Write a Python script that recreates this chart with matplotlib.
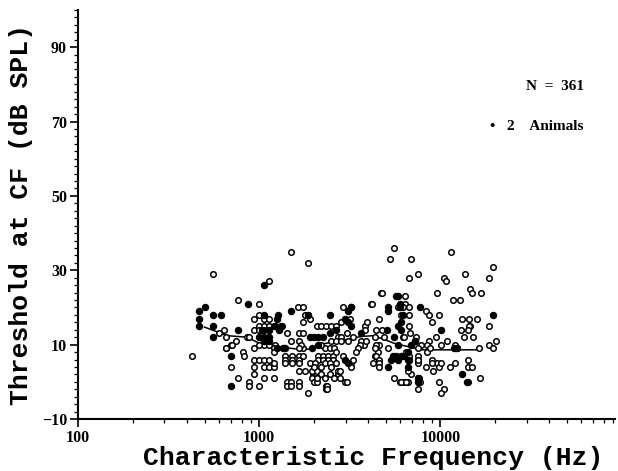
import matplotlib
matplotlib.use('Agg')
import matplotlib.pyplot as plt
from matplotlib.ticker import FixedLocator, NullFormatter, MultipleLocator

# open circles: CF (Hz) and threshold (dB SPL)
open_freq = [
    427, 558, 640, 653, 653, 700, 702, 762, 760, 815,
    820, 876, 876, 860, 657, 710, 600, 745,
    934, 994, 1060, 1127, 994, 1060, 1127, 1200, 934, 994,
    1060, 1127, 998, 1127, 994, 876, 934, 1060, 1127, 934,
    994, 1060, 934, 934, 1060, 1127, 1200, 1060, 1200, 1200,
    1230, 1200, 1200, 1000, 1127,
    1330, 1420, 1500, 1390, 1510, 1650, 1390, 1510, 1650, 1390,
    1510, 1650, 1420, 1420, 1500, 1500, 1650, 1650, 1646, 1750,
    1500, 1867, 1790, 1867, 1650, 1750, 1650, 1750, 1650, 1790,
    1990, 1867, 1750, 1700, 1900, 1950, 1750, 1650, 1950, 1900,
    2080, 2000, 2080, 2340, 2340, 2728, 2728, 2980, 2080, 2200,
    2340, 2500, 2660, 2980, 3160, 2900, 3230, 3230, 2120, 2240,
    2400, 2540, 2120, 2240, 2400, 2540, 2030, 2300, 2470, 2670,
    2080, 2200, 2470, 2780, 2780, 2080, 2300, 2600, 2370, 2370,
    3050, 2730, 2840, 3050, 2500, 2660, 2840, 2300, 2450, 2600,
    2840, 3300, 3090, 2000, 2200, 2500, 3300, 2660, 2900, 2200,
    3820, 3820, 4150, 4700, 4340, 4600, 4780, 4600, 4520, 4340,
    4240, 3660, 3770, 3890, 3580, 3510, 3440, 4430, 4340, 4430,
    4600, 4600, 4600, 4780, 4210, 4440, 5300, 5560, 6850, 6710,
    5560, 5950, 6300, 6590, 6850, 7540, 7540, 6360, 6360, 6050,
    5800, 6200, 6700, 6700, 6710, 6830, 6200, 6330, 6710, 6710,
    7540, 7540, 6050, 6420, 4900, 3950, 5130, 6590, 6420, 6330,
    7540, 11480, 19600, 18640, 13700, 16690, 14600, 14950, 10460, 10690,
    9630, 11710, 12840, 8280, 8650, 9800, 9000, 9500, 8650, 7770,
    7480, 8490, 10030, 10920, 12100, 12400, 13100, 14350, 15950, 14600,
    14350, 14140, 12970, 13440, 15170, 18640, 20200, 18640, 19600, 16300,
    14200, 14200, 14950, 16500, 14140, 11300, 12000, 9160, 9800, 10460,
    10030, 9630, 9800, 9000, 7560, 7560, 7720, 7600, 8490, 8800,
    10030, 9000, 8300, 7300,
]
open_thr = [
    7, 29, 14, 12, 9, 10, 4, 1, 22, 8,
    7, 0, -1, 12, 9, 10, 13, 11,
    17, 18, 17, 17, 15, 15, 15, 15, 14, 14,
    14, 14, 21, 27, -1, 12, 9, 10, 10, 6,
    6, 6, 4, 2, 4, 4, 4, 1, 1, 5,
    10, 9, 8, 10, 6,
    15, 13, 11, 7, 7, 7, 6, 6, 6, 5,
    5, 5, 0, -1, 0, -1, 0, -1, 20, 20,
    35, 32, 18, 18, 13, 13, 11, 9, 3, 3,
    2, -3, 16, 10, 5, 1, 7, 9, 3, 17,
    2, 0, 0, -1, -2, 2, 3, 0, 15, 15,
    15, 15, 15, 17, 17, 20, 5, 4, 7, 7,
    7, 7, 6, 6, 6, 6, 5, 5, 5, 5,
    3, 2, 2, 3, 1, 1, 1, 1, -1, -2,
    0, 12, 12, 13, 11, 11, 11, 9, 9, 9,
    16, 12, 11, 4, 4, 4, 6, 8, 7, 10,
    15, 14, 21, 24, 12, 17, 14, 10, 8, 7,
    5, 11, 10, 11, 10, 9, 8, 10, 9, 7,
    6, 5, 4, 24, 21, 14, 33, 36, 33, 28,
    1, 0, 0, 0, 2, 1, -2, 23, 21, 18,
    20, 20, 20, 18, 15, 13, 12, 12, 7, 6,
    6, 7, 0, 0, 12, 16, 9, 3, 8, 7,
    29, 35, 31, 28, 29, 24, 25, 24, 28, 27,
    24, 22, 22, 19, 18, 18, 16, 12, 11, 10,
    9, 8, 10, 11, 10, 9, 17, 17, 17, 15,
    15, 14, 14, 12, 12, 15, 11, 10, 9, 9,
    6, 4, 4, 1, 0, 4, 5, 3, 0, -2,
    -3, 5, 4, 6, 5, 6, 0, 1, 10, 9,
    5, 5, 4, 12,
]

# filled circles
filled_freq = [
    466, 466, 466, 505, 558, 612, 558, 558, 762, 702,
    702, 866, 1068, 1068, 1270, 1250, 1220, 1320, 1035, 1140,
    1000, 1068, 1140, 1068, 1140, 1250, 1360, 1500, 1867, 2450,
    3200, 2250, 2450, 2660, 1900, 2000, 2100, 2120, 1390, 1280,
    2980, 3660, 3090, 3230, 3090, 2980, 3090, 3230, 1950, 5680,
    5130, 5130, 5950, 5950, 7720, 10030, 7280, 11900, 12400, 19600,
    13200, 14060, 7480, 7480, 6590, 6300, 5450, 5800, 5560, 5800,
    5060, 5130, 5360, 5690, 6050, 6590, 6590, 6050,
    5800, 5800, 6200, 6050, 6710, 7200, 6850,
]
filled_thr = [
    19, 17, 15, 20, 18, 18, 15, 12, 14, 7,
    -1, 21, 26, 18, 18, 17, 15, 15, 14, 14,
    12, 12, 12, 11, 11, 9, 9, 19, 18, 18,
    20, 12, 13, 14, 12, 12, 12, 10, 9, 14,
    6, 13, 5, 20, 19, 17, 16, 15, 9, 23,
    20, 19, 21, 20, 20, 14, 11, 9, 9, 18,
    2, 0, 1, 0, 6, 7, 7, 6, 12, 10,
    14, 4, 6, 7, 7, 4, 8, 16,
    15, 23, 18, 14, 6, 11, 10,
]

# median trend line
line_freq = [500, 670, 860, 1035, 1250, 1640, 1950, 2120, 2800, 3650,
             4240, 4900, 5600, 6600, 7800, 11900, 16300]
line_thr = [14.7, 12.4, 12.0, 10.0, 9.4, 8.8, 8.8, 10.0, 11.0, 12.2,
            12.4, 11.4, 10.3, 9.5, 8.6, 8.6, 8.6]

fig = plt.figure(figsize=(6.18, 4.71), dpi=100)
ax = fig.add_axes([78 / 618, 52 / 471, 537 / 618, 409 / 471])

ax.plot(line_freq, line_thr, color='black', lw=1.1, zorder=2)
ax.scatter(open_freq, open_thr, s=16, facecolors='white', edgecolors='black',
           linewidths=1.1, zorder=3)
ax.scatter(filled_freq, filled_thr, s=19, color='black', zorder=4)

ax.set_xscale('log')
ax.set_xlim(100, 92000)
ax.set_ylim(-10, 100)

tick_font = dict(family='Liberation Serif', weight='bold', size=11.5)
ax.xaxis.set_major_locator(FixedLocator([100, 1000, 10000]))
ax.set_xticklabels(['100', '1000', '10000'], **tick_font)
ax.xaxis.set_minor_locator(FixedLocator(
    [m * 10 ** e for e in (2, 3, 4) for m in range(2, 10)]))
ax.xaxis.set_minor_formatter(NullFormatter())
ax.set_yticks([-10, 10, 30, 50, 70, 90])
ax.set_yticklabels(['−10', '10', '30', '50', '70', '90'], **tick_font)
ax.yaxis.set_minor_locator(MultipleLocator(2))

ax.tick_params(which='major', direction='out', length=6, width=1.2, pad=2)
ax.tick_params(which='minor', direction='out', length=3, width=0.9)

for side in ('top', 'right'):
    ax.spines[side].set_visible(False)
for side in ('left', 'bottom'):
    ax.spines[side].set_linewidth(1.5)

label_font = dict(family='Liberation Mono', weight='bold', size=19)
ax.set_xlabel('Characteristic Frequency (Hz)', **label_font)
ax.xaxis.set_label_coords(0.55, -0.065)
ax.set_ylabel('Threshold at CF (dB SPL)', labelpad=6, **label_font)

note_font = dict(family='Liberation Serif', weight='bold', size=11)
ax.text(0.942, 0.812, 'N  =  361', transform=ax.transAxes, ha='right',
        va='center', **note_font)
ax.text(0.942, 0.714, '•   2    Animals', transform=ax.transAxes, ha='right',
        va='center', **note_font)

fig.savefig('out.png', dpi=100)
